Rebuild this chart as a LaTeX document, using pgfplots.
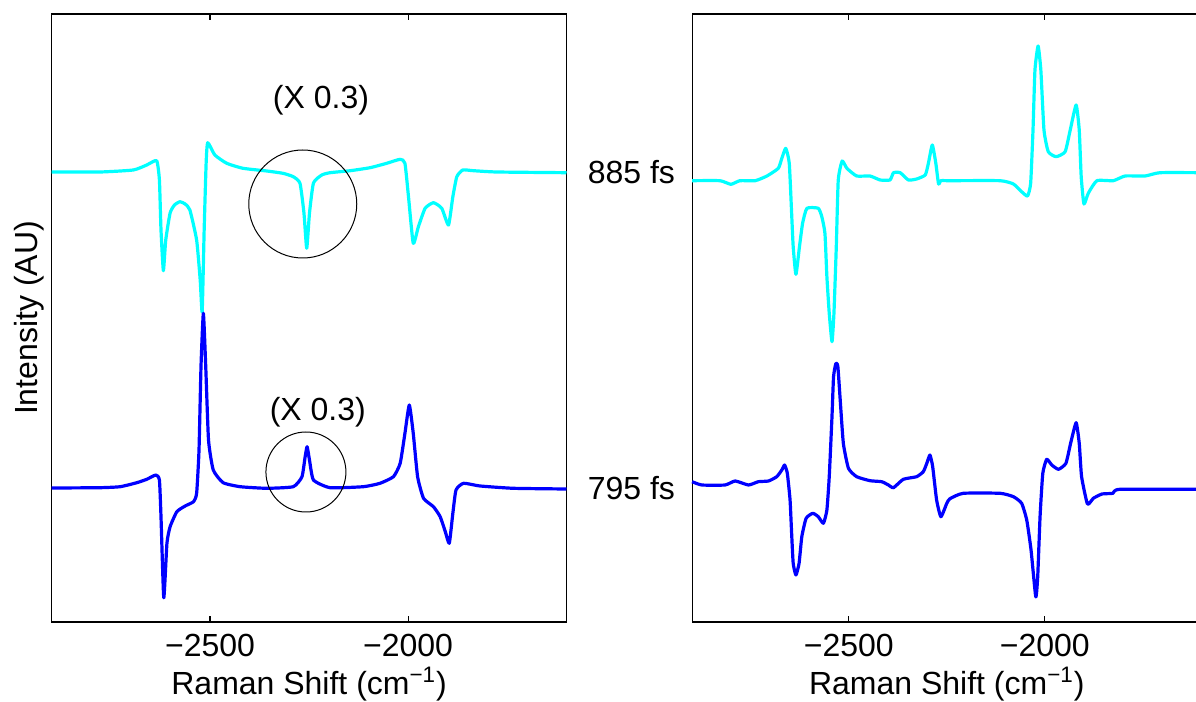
\documentclass[border=0pt]{standalone}
\usepackage{fontspec}
\setmainfont{Liberation Sans}
\usepackage{pgfplots}
\pgfplotsset{compat=1.18}
\definecolor{mcyan}{rgb}{0,1,1}
\definecolor{mblue}{rgb}{0,0,1}

\pgfplotsset{
  panel/.style={
    scale only axis, width=257.4pt, height=304pt,
    xmin=-2900, xmax=-1600, ymin=0, ymax=608,
    xtick={-2500,-2000}, xticklabels={−2500,−2000}, ytick=\empty,
    tick align=inside, major tick length=3pt,
    axis line style={line width=0.6pt}, tick style={line width=0.6pt, black},
    xticklabel style={anchor=center, yshift=-11.5pt},
    xlabel={Raman Shift (cm\textsuperscript{−1})},
    xlabel style={at={(axis description cs:0.5,0)}, anchor=center, yshift=-31pt},
    every axis plot/.append style={line width=1.6pt, smooth, tension=0.3, line join=round},
  },
}

\begin{document}
\fontsize{16}{19}\selectfont
\begin{tikzpicture}
% left panel: model spectra
\begin{axis}[panel, at={(0pt,0pt)},
  ylabel={Intensity (AU)},
  ylabel style={at={(axis description cs:-0.044,0.5)}, anchor=center}]
\addplot[mcyan] coordinates {(-2900,450) (-2778,450) (-2694,452) (-2660,457) (-2635,461.3)
  (-2628,442) (-2624,392) (-2618,351.3) (-2612,382) (-2601,409) (-2590,417) (-2576,420.3)
  (-2563,418) (-2551,412)
  (-2534,382) (-2525,342) (-2520,310.3) (-2515,392) (-2510,459) (-2506,479.3) (-2488,467)
  (-2458,458.7) (-2417,453.7) (-2357,451) (-2316,448.7) (-2290,445.3) (-2273,438.7)
  (-2263,409) (-2256,373.7) (-2249,409) (-2239,439) (-2218,447) (-2197,449.3) (-2146,451.3)
  (-2096,454.3) (-2054,458.7) (-2020,462.7) (-2008,458.7) (-1999,425.3) (-1987,378.7)
  (-1974,395.3) (-1957,413.7) (-1936,419.3) (-1915,413.7) (-1898,397) (-1887,425.3)
  (-1877,445.3) (-1862,452) (-1835,451.3) (-1776,450) (-1600,449.3)};
\addplot[mblue] coordinates {(-2900,134) (-2778,134.3) (-2727,135.3) (-2685,139.3) (-2660,142.7)
  (-2637,147) (-2628,142) (-2624,105.3) (-2617,24.3) (-2609,78.7) (-2601,95.3) (-2584,110.3)
  (-2563,116) (-2542,120.3) (-2534,128.7) (-2528,172) (-2523,255.3) (-2517,308.7)
  (-2511,255.3) (-2504,182) (-2492,152) (-2467,139.3) (-2424,135.3) (-2357,133.7)
  (-2290,135.3) (-2268,145.3) (-2260,165.3) (-2255,175.3) (-2249,162) (-2239,142)
  (-2197,134.3) (-2113,135.3) (-2071,138.7) (-2037,145.3) (-2020,158.7) (-2008,188.7)
  (-1997,217) (-1987,188.7) (-1976,145.3) (-1961,123.7) (-1936,115.3) (-1919,105.3)
  (-1906,90.3) (-1896,78.7) (-1887,108.7) (-1879,132) (-1860,138.7) (-1818,136)
  (-1734,133.7) (-1600,133)};
\draw[black, line width=0.5pt] (axis cs:-2266,418) circle[radius=27pt];
\draw[black, line width=0.5pt] (axis cs:-2258,150) circle[radius=20pt];
\node at (axis cs:-2220,522) {(X 0.3)};
\node at (axis cs:-2228,210) {(X 0.3)};
\end{axis}
% right panel: measured spectra
\begin{axis}[panel, at={(320.2pt,0pt)}, width=254.7pt, clip=false]
\addplot[mcyan] coordinates {(-2900,441.3) (-2829,441.3) (-2801,437.7) (-2778,441.3)
  (-2739,441.3) (-2709,446) (-2680,453.7) (-2671,463.7) (-2661,473.7) (-2652,458.7)
  (-2646,408.7) (-2642,375.3) (-2635,347.7) (-2626,375.3) (-2618,398.7) (-2607,413.7)
  (-2578,413.7) (-2569,405.3) (-2561,388.7) (-2556,345.3) (-2550,308.7) (-2543,280.3)
  (-2538,308.7) (-2532,375.3) (-2527,442) (-2517,461) (-2505,453.7) (-2480,446) (-2446,446)
  (-2420,442) (-2395,442) (-2386,449.3) (-2369,449.3) (-2348,442) (-2327,443) (-2305,447)
  (-2297,458.7) (-2287,477) (-2278,458.7) (-2271,438) (-2265,441.3) (-2242,441.3)
  (-2114,441.3) (-2080,438) (-2059,430.3) (-2044,426) (-2036,438.7) (-2030,492) (-2025,552)
  (-2017,576) (-2010,552) (-2002,492) (-1991,470.3) (-1971,465.3) (-1948,470.3) (-1935,492)
  (-1920,517) (-1912,492) (-1907,445.3) (-1900,418) (-1889,428.7) (-1867,441.3)
  (-1825,441.3) (-1795,446) (-1744,446) (-1706,449.3) (-1600,449.3)};
\addplot[mblue] coordinates {(-2900,140.3) (-2875,137) (-2816,137) (-2790,141) (-2756,137)
  (-2731,140.3) (-2705,141) (-2684,145.3) (-2671,152) (-2664,157) (-2657,148.7) (-2650,122)
  (-2646,88.7) (-2642,58.7) (-2635,47) (-2627,58.7) (-2620,85.3) (-2609,103.7) (-2592,108.7)
  (-2578,105.3) (-2565,98.7) (-2556,112) (-2550,145.3) (-2543,205.3) (-2539,245.3)
  (-2533,258.7) (-2528,255.3) (-2522,222) (-2514,178.7) (-2501,153.7) (-2480,145.3)
  (-2446,141.3) (-2416,140.3) (-2399,137) (-2386,134.3) (-2361,142.7) (-2327,145.3)
  (-2310,150.3) (-2301,158.7) (-2293,167) (-2286,155.3) (-2276,122) (-2265,105.3)
  (-2250,118.7) (-2242,123.3) (-2208,128.7) (-2114,128.7) (-2080,125.3) (-2059,118.7)
  (-2046,102) (-2035,72) (-2023,25.3) (-2018,45.3) (-2012,105.3) (-2005,148.7) (-1995,162.7)
  (-1982,157) (-1965,152.7) (-1946,158.7) (-1934,178.7) (-1920,199.3) (-1912,178.7)
  (-1906,145.3) (-1891,118) (-1876,123.7) (-1854,128) (-1826,128.7) (-1808,132.7)
  (-1600,132.7)};
\node[anchor=east, xshift=-3pt] at (axis cs:-2900,450) {885 fs};
\node[anchor=east, xshift=-3pt] at (axis cs:-2900,133.7) {795 fs};
\end{axis}
\pgfresetboundingbox
\useasboundingbox (-25.85pt,-40pt) rectangle (572.15pt,311pt);
\end{tikzpicture}
\end{document}
